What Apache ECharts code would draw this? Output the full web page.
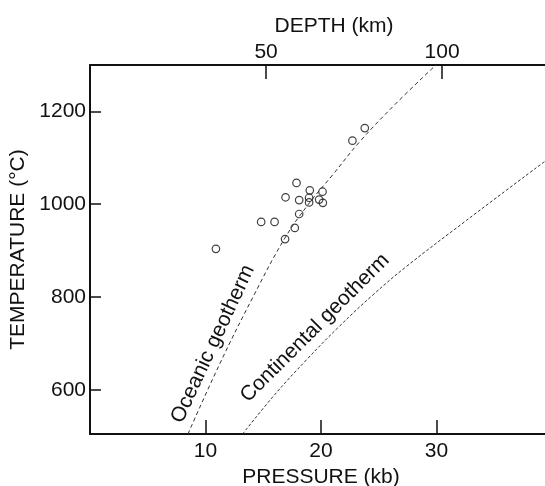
<!DOCTYPE html>
<html><head><meta charset="utf-8">
<script src="https://cdn.jsdelivr.net/npm/echarts@6/dist/echarts.min.js"></script>
<style>html,body{margin:0;padding:0;background:#fff}#c{width:545px;height:486px}</style>
</head><body><div id="c"></div>
<script>
// ---- data ----
const pressureTicks = [10, 20, 30];          // kb
const depthTicks = [50, 100];                // km
const temperatureTicks = [600, 800, 1000, 1200]; // °C

const sampleP = [23.79, 22.72, 17.88, 19.03, 20.13, 16.93, 18.11, 18.97, 18.97, 19.84, 20.16, 18.11, 14.82, 15.98, 17.73, 16.89, 10.90];
const sampleT = [1164, 1137, 1046, 1030, 1027, 1015, 1009, 1014, 1004, 1010, 1003, 979, 962, 962, 949, 925, 904];

const oceanicP = [8.48, 11.25, 14.13, 16.87, 19.0, 21.0, 23.36, 26.53, 29.99];
const oceanicT = [505, 657, 801, 927, 1003, 1063, 1135, 1218, 1301];

const continentalP = [13.21, 16.0, 18.75, 21.63, 24.51, 27.4, 32.58, 39.36];
const continentalT = [505, 590, 665, 738, 805, 866, 965, 1092];

const pressureMax = 40;
const depthMax = 131.2;
const tempMin = 505, tempMax = 1300;

const FONT = '"Liberation Sans", Arial, Helvetica, sans-serif';
const zip = (a, b) => a.map((v, i) => [v, b[i]]);

const chart = echarts.init(document.getElementById('c'), null, {renderer: 'canvas'});
const axisLine = {show: true, lineStyle: {color: '#111', width: 2}};
const plain = v => String(v);
chart.setOption({
  animation: false,
  backgroundColor: '#fff',
  grid: {left: 90, top: 65, width: 462, height: 369, containLabel: false, outerBoundsMode: 'none'},
  xAxis: [{
    type: 'value', position: 'bottom', min: 0, max: pressureMax,
    name: 'PRESSURE (kb)', nameLocation: 'middle', nameGap: 30,
    nameTextStyle: {fontFamily: FONT, fontSize: 21, color: '#111'},
    axisLine: axisLine,
    axisTick: {show: true, inside: true, length: 14, customValues: pressureTicks, lineStyle: {color: '#111', width: 1.5}},
    axisLabel: {customValues: pressureTicks, formatter: plain, fontFamily: FONT, fontSize: 21, color: '#111', margin: 7},
    splitLine: {show: false}
  }, {
    type: 'value', position: 'top', min: 0, max: depthMax,
    name: 'DEPTH (km)', nameLocation: 'middle', nameGap: 28,
    nameTextStyle: {fontFamily: FONT, fontSize: 21, color: '#111', padding: [0, 0, 0, 26]},
    axisLine: axisLine,
    axisTick: {show: true, inside: true, length: 14, customValues: depthTicks, lineStyle: {color: '#111', width: 1.5}},
    axisLabel: {customValues: depthTicks, formatter: plain, fontFamily: FONT, fontSize: 21, color: '#111', margin: 2},
    splitLine: {show: false}
  }],
  yAxis: {
    type: 'value', min: tempMin, max: tempMax,
    name: 'TEMPERATURE (°C)', nameLocation: 'middle', nameGap: 54, nameRotate: 90,
    nameTextStyle: {fontFamily: FONT, fontSize: 21, color: '#111'},
    axisLine: axisLine,
    axisTick: {show: true, inside: true, length: 11, customValues: temperatureTicks, lineStyle: {color: '#111', width: 1.5}},
    axisLabel: {customValues: temperatureTicks, formatter: plain, fontFamily: FONT, fontSize: 21, color: '#111', margin: 4},
    splitLine: {show: false}
  },
  series: [{
    name: 'Oceanic geotherm', type: 'line', xAxisIndex: 0, smooth: 0.4, showSymbol: false, clip: true,
    data: zip(oceanicP, oceanicT),
    lineStyle: {color: '#333', width: 1, type: [4, 3]}
  }, {
    name: 'Continental geotherm', type: 'line', xAxisIndex: 0, smooth: 0.4, showSymbol: false, clip: true,
    data: zip(continentalP, continentalT),
    lineStyle: {color: '#333', width: 1, type: [3, 2]}
  }, {
    name: 'samples', type: 'scatter', xAxisIndex: 0, symbol: 'circle', symbolSize: 7.5,
    data: zip(sampleP, sampleT),
    itemStyle: {color: 'rgba(255,255,255,0)', borderColor: '#111', borderWidth: 1.2}
  }],
  graphic: [{
    type: 'text', x: 213, y: 344, rotation: 65 * Math.PI / 180,
    style: {text: 'Oceanic geotherm', fontFamily: FONT, fontSize: 21, fill: '#111', align: 'center', verticalAlign: 'middle'}
  }, {
    type: 'text', x: 315, y: 328, rotation: 45 * Math.PI / 180,
    style: {text: 'Continental geotherm', fontFamily: FONT, fontSize: 21, fill: '#111', align: 'center', verticalAlign: 'middle'}
  }]
});
</script></body></html>
